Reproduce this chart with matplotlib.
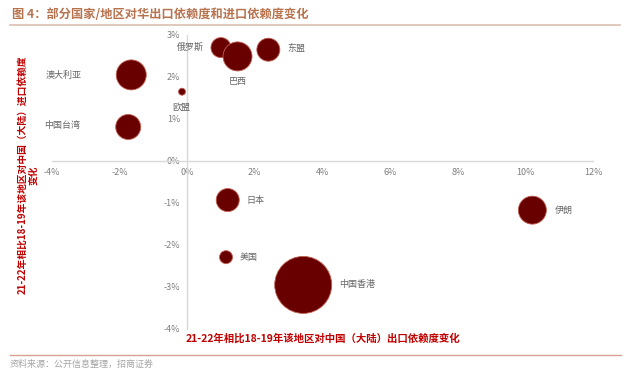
import numpy as np
import matplotlib
matplotlib.use('Agg')
import matplotlib.pyplot as plt
from matplotlib.lines import Line2D

plt.rcParams['font.family'] = ['Noto Sans CJK SC', 'DejaVu Sans']

# Data: change in dependence (percentage points), 21-22 vs 18-19
names = ['俄罗斯', '巴西', '东盟', '澳大利亚', '欧盟', '中国台湾', '日本', '伊朗', '美国', '中国香港']
export_change = [1.00, 1.49, 2.40, -1.65, -0.15, -1.74, 1.20, 10.20, 1.15, 3.43]
import_change = [2.70, 2.49, 2.65, 2.05, 1.65, 0.81, -0.93, -1.17, -2.29, -2.95]
bubble_size = [400, 841, 529, 900, 49, 625, 529, 784, 169, 3249]  # relative bubble area

x_ticks = [-4, -2, 0, 2, 4, 6, 8, 10, 12]
y_ticks = [-4, -3, -2, -1, 0, 1, 2, 3]

title = '图 4：部分国家/地区对华出口依赖度和进口依赖度变化'
xlabel = '21-22年相比18-19年该地区对中国（大陆）出口依赖度变化'
ylabel = '21-22年相比18-19年该地区对中国（大陆）进口依赖度\n变化'
source = '资料来源：公开信息整理，招商证券'

# label offsets in pixels (dx, dy), dy positive = up
label_offsets = {
    '俄罗斯': (-31, 0), '巴西': (0, -25), '东盟': (28, 0), '澳大利亚': (-68, -1),
    '欧盟': (-1, -16), '中国台湾': (-66, 1), '日本': (28, 0), '伊朗': (31, 0),
    '美国': (23, 0), '中国香港': (54, 0),
}

fig = plt.figure(figsize=(6.4, 3.71), dpi=100)
ax = fig.add_axes([51.7 / 640, 42 / 371, 541.6 / 640, 294 / 371])

px2pt = 72 / 100
ax.scatter(export_change, import_change, s=np.array(bubble_size) * px2pt ** 2,
           color='#680000', edgecolors='#c06050', linewidths=0.6, zorder=3)

for name, xv, yv in zip(names, export_change, import_change):
    dx, dy = label_offsets[name]
    ax.annotate(name, (xv, yv), xytext=(dx * px2pt, dy * px2pt), textcoords='offset points',
                ha='center', va='center', fontsize=6.5, color='#666666', zorder=4)

ax.set_xlim(-4, 12)
ax.set_ylim(-4, 3)
ax.set_xticks(x_ticks)
ax.set_yticks(y_ticks)
ax.set_xticklabels([f'{v}%' for v in x_ticks])
ax.set_yticklabels([f'{v}%' for v in y_ticks])

for side in ['top', 'right']:
    ax.spines[side].set_visible(False)
ax.spines['left'].set_position(('data', 0))
ax.spines['bottom'].set_position(('data', 0))
for side in ['left', 'bottom']:
    ax.spines[side].set_color('#d9d9d9')
    ax.spines[side].set_linewidth(1.0)
ax.tick_params(length=0, labelsize=6.5, labelcolor='#7f7f7f')
ax.tick_params(axis='y', pad=5)
ax.tick_params(axis='x', pad=5)
ax.patch.set_alpha(0)

# title and decorations
fig.text(12 / 640, 1 - 15 / 371, title, fontsize=8.8, fontweight='bold',
         color='#b8734e', ha='left', va='center')
fig.add_artist(Line2D([10 / 640, 620 / 640], [1 - 25 / 371, 1 - 25 / 371],
                      color='#dcc0b0', lw=1.2))
fig.text(186 / 640, 1 - 338 / 371, xlabel, fontsize=7.5, fontweight='bold',
         color='#c00000', ha='left', va='center')
fig.text(27.5 / 640, 1 - 175 / 371, ylabel, fontsize=7, fontweight='bold',
         color='#c00000', ha='center', va='center', rotation=90,
         multialignment='center', linespacing=1.1)
fig.add_artist(Line2D([10 / 640, 621 / 640], [1 - 355 / 371, 1 - 355 / 371],
                      color='#d8a090', lw=1.0))
fig.text(10 / 640, 1 - 364 / 371, source, fontsize=6.5, color='#a6a6a6',
         ha='left', va='center')

fig.savefig('out.png', dpi=100)
